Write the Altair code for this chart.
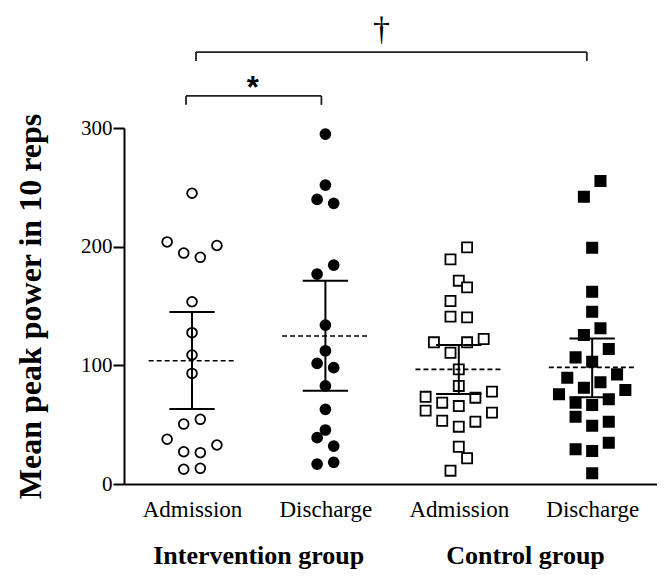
import json
import altair as alt
import pandas as pd

# ---------------- data ----------------
tick_labels = ["Admission", "Discharge", "Admission", "Discharge"]
group_titles = ["Intervention group", "Control group"]
group_title_x = [1.5, 3.5]

int_adm_values = [245, 204, 194.6, 191, 201, 153.6, 127.5, 108.7, 93.2, 54.5,
                  50.5, 37.7, 27.2, 26.4, 32.9, 13.2, 12.4]
int_adm_slots = [0, -3, -1, 1, 3, 0, 0, 0, 0, 1, -1, -3, -1, 1, 3, 1, -1]

int_dis_values = [294.9, 251.9, 239.8, 236.5, 184.5, 176.9, 133.9, 112.3, 101.7,
                  98, 82.6, 62.9, 45.5, 39, 32, 16.8, 18.3]
int_dis_slots = [0, 0, -1, 1, 1, -1, 0, 0, -1, 1, 0, 0, 0, -1, 1, -1, 1]

con_adm_values = [199.4, 189.3, 171.3, 165.7, 154.2, 141, 140.4, 119.4, 119.4,
                  122.2, 110.6, 96.6, 82.6, 73.5, 77.8, 68.5, 72.7, 65.7, 61.8,
                  60.1, 53.3, 48.3, 52.5, 31.4, 21.7, 11.2]
con_adm_slots = [1, -1, 0, 1, -1, -1, 1, -3, 1, 3, -1, 0, 0, -4, 4, -2, 2, 0,
                 -4, 4, -2, 0, 2, 0, 1, -1]

con_dis_values = [255.3, 242, 199.1, 162, 145.2, 131.2, 125.5, 113.7, 106.7, 103,
                  89.6, 92.4, 81.1, 85.7, 75.6, 79.2, 68.5, 66.6, 71.4, 56.7,
                  49.1, 52.5, 34.8, 29.2, 27.8, 9]
con_dis_slots = [1, -1, 0, 0, 0, 1, -1, 2, -2, 0, -3, 3, -1, 1, -4, 4, -2, 0,
                 2, -2, 0, 2, 2, -2, 0, 0]

means = [103.9, 124.7, 96.6, 98.3]
ci_low = [63.2, 78.6, 75.8, 73.0]
ci_high = [145.0, 171.3, 117.1, 122.7]

# significance brackets (x in category units, y in data units)
star_bracket_x = [0.955, 1.97]
star_bracket_y = [319.5, 327]
dagger_bracket_x = [1.03, 3.96]
dagger_bracket_y = [356.5, 364]
star_label = {"x": 1.455, "y": 339, "text": "*"}
dagger_label = {"x": 2.42, "y": 383, "text": "†"}

# ---------------- build tables ----------------
SLOT = 0.0622
series = [
    (1, int_adm_values, int_adm_slots),
    (2, int_dis_values, int_dis_slots),
    (3, con_adm_values, con_adm_slots),
    (4, con_dis_values, con_dis_slots),
]
rows = []
for g, vals, slots in series:
    for v, s in zip(vals, slots):
        rows.append({"g": g, "x": g + s * SLOT, "v": v})
pts = pd.DataFrame(rows)

summ = pd.DataFrame({
    "g": [1, 2, 3, 4], "mean": means, "lo": ci_low, "hi": ci_high,
})
summ["mx1"] = summ["g"] - 0.325
summ["mx2"] = summ["g"] + 0.325
summ["cx1"] = summ["g"] - 0.17
summ["cx2"] = summ["g"] + 0.17

xs = alt.Scale(domain=[0.49, 4.486], nice=False, zero=False)
ys = alt.Scale(domain=[0, 300], nice=False)

label_arr = json.dumps([""] + tick_labels)

base_x = alt.X("x:Q", scale=xs, axis=alt.Axis(
    values=[1, 2, 3, 4], labelExpr=f"{label_arr}[datum.value]",
    tickSize=0, domainWidth=2, domainColor="black", grid=False,
    labelFont="Liberation Serif", labelFontSize=23, labelColor="black",
    labelPadding=14, labelFlush=False, title=None))
base_y = alt.Y("v:Q", scale=ys, axis=alt.Axis(
    values=[0, 100, 200, 300], tickSize=11, tickWidth=2, tickColor="black",
    domainWidth=2, domainColor="black", grid=False,
    labelFont="Liberation Serif", labelFontSize=21, labelColor="black",
    labelPadding=1, title="Mean peak power in 10 reps",
    titleFont="Liberation Serif", titleFontSize=32, titleFontWeight="bold",
    titleColor="black", titlePadding=33))

points = alt.Chart(pts).mark_point(filled=True, opacity=1, stroke="black",
                                   strokeWidth=1.8).encode(
    x=base_x, y=base_y,
    shape=alt.Shape("g:N", scale=alt.Scale(domain=[1, 2, 3, 4],
                    range=["circle", "circle", "square", "square"]), legend=None),
    fill=alt.Fill("g:N", scale=alt.Scale(domain=[1, 2, 3, 4],
                  range=["white", "black", "white", "black"]), legend=None),
    size=alt.Size("g:N", scale=alt.Scale(domain=[1, 2, 3, 4],
                  range=[95, 105, 105, 125]), legend=None),
)

sb = alt.Chart(summ)
mean_lines = sb.mark_rule(strokeDash=[5, 3], strokeWidth=1.6, color="black").encode(
    x=alt.X("mx1:Q", scale=xs), x2="mx2:Q", y=alt.Y("mean:Q", scale=ys))
err_v = sb.mark_rule(strokeWidth=2, color="black").encode(
    x=alt.X("g:Q", scale=xs), y=alt.Y("lo:Q", scale=ys), y2="hi:Q")
cap_lo = sb.mark_rule(strokeWidth=2, color="black").encode(
    x=alt.X("cx1:Q", scale=xs), x2="cx2:Q", y=alt.Y("lo:Q", scale=ys))
cap_hi = sb.mark_rule(strokeWidth=2, color="black").encode(
    x=alt.X("cx1:Q", scale=xs), x2="cx2:Q", y=alt.Y("hi:Q", scale=ys))

brk = pd.DataFrame({
    "x1": [star_bracket_x[0], dagger_bracket_x[0]],
    "x2": [star_bracket_x[1], dagger_bracket_x[1]],
    "ylo": [star_bracket_y[0], dagger_bracket_y[0]],
    "yhi": [star_bracket_y[1], dagger_bracket_y[1]],
})
bc = alt.Chart(brk)
brk_h = bc.mark_rule(strokeWidth=1.8, color="#222").encode(
    x=alt.X("x1:Q", scale=xs), x2="x2:Q", y=alt.Y("yhi:Q", scale=ys))
brk_l = bc.mark_rule(strokeWidth=1.8, color="#222").encode(
    x=alt.X("x1:Q", scale=xs), y=alt.Y("ylo:Q", scale=ys), y2="yhi:Q")
brk_r = bc.mark_rule(strokeWidth=1.8, color="#222").encode(
    x=alt.X("x2:Q", scale=xs), y=alt.Y("ylo:Q", scale=ys), y2="yhi:Q")

star = alt.Chart(pd.DataFrame([star_label])).mark_text(
    font="Liberation Sans", fontWeight="bold", fontSize=31, color="black",
    baseline="middle", dy=7).encode(
    x=alt.X("x:Q", scale=xs), y=alt.Y("y:Q", scale=ys), text="text:N")
dagger = alt.Chart(pd.DataFrame([dagger_label])).mark_text(
    font="Liberation Serif", fontSize=34, color="black",
    baseline="middle").encode(
    x=alt.X("x:Q", scale=xs), y=alt.Y("y:Q", scale=ys), text="text:N")

gt = pd.DataFrame({"x": group_title_x, "y": [-67.5, -67.5], "t": group_titles})
group_text = alt.Chart(gt).mark_text(
    font="Liberation Serif", fontWeight="bold", fontSize=26, color="black",
    baseline="alphabetic").encode(
    x=alt.X("x:Q", scale=xs), y=alt.Y("y:Q", scale=ys), text="t:N")

chart = alt.layer(
    points, mean_lines, err_v, cap_lo, cap_hi,
    brk_h, brk_l, brk_r, star, dagger, group_text,
).properties(
    width=533, height=356,
    autosize="none",
    padding={"left": 116, "top": 120, "right": 0, "bottom": 86},
    background="white",
).configure_view(stroke=None)

chart.save("out.html", embed_options={"renderer": "svg", "actions": False})
